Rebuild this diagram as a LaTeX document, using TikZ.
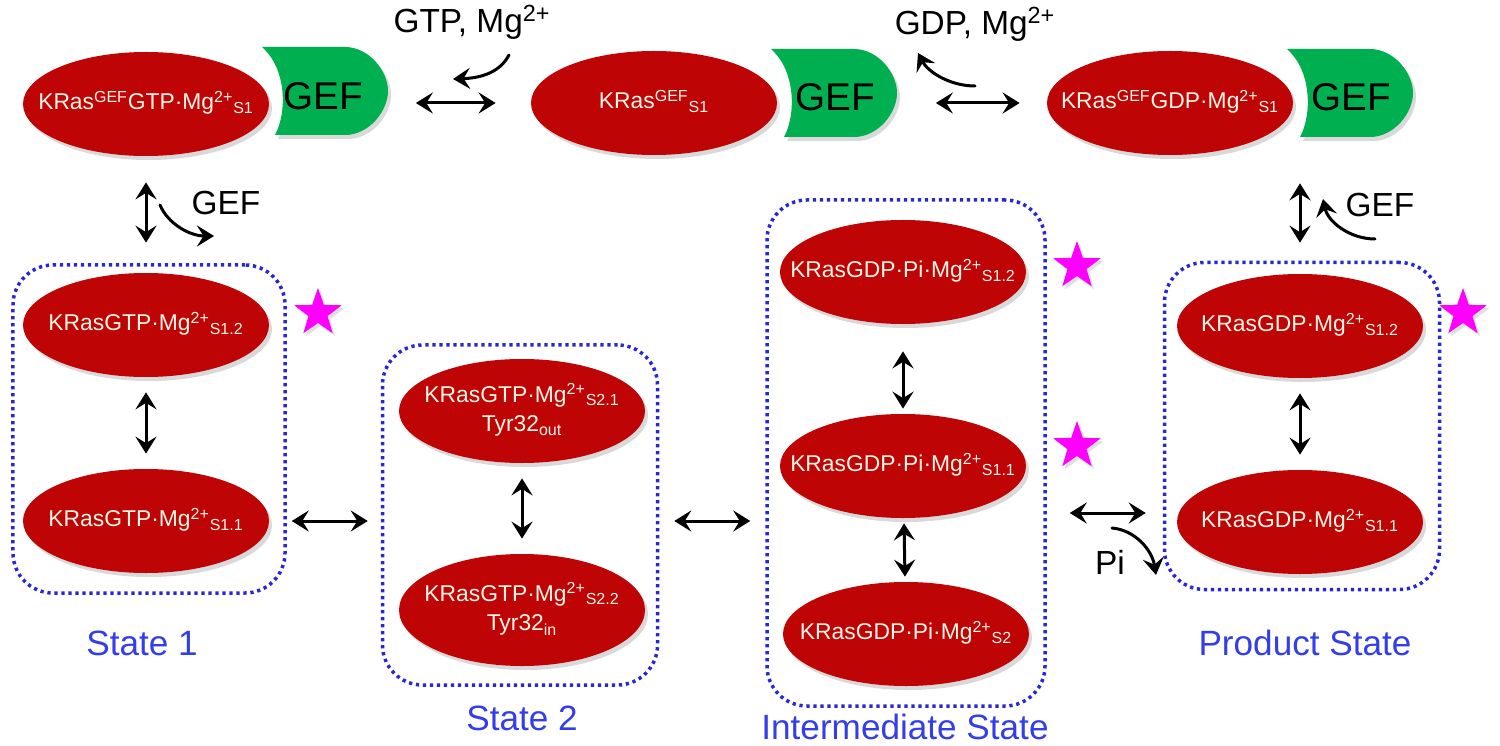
\documentclass[tikz,border=0pt]{standalone}
\usepackage{fontspec}
\setmainfont{Liberation Sans}
\usetikzlibrary{shapes.geometric, arrows.meta, positioning, calc, shadows}

\definecolor{kred}{RGB}{190,4,4}
\definecolor{kcream}{RGB}{255,246,232}
\definecolor{gefgreen}{RGB}{0,176,80}
\definecolor{boxblue}{RGB}{40,40,210}
\definecolor{labelblue}{RGB}{52,62,232}
\definecolor{starpink}{RGB}{255,0,255}

\newcommand{\inell}[1]{\makebox[0pt]{\begin{tabular}{@{}c@{}}#1\end{tabular}}}

\begin{document}
\begin{tikzpicture}[x=0.2mm, y=-0.2mm, line join=round, line cap=round,
    kras/.style={ellipse, fill=kred, text=kcream, inner sep=0pt,
      minimum width=49.2mm, minimum height=20.8mm,
      font=\fontsize{13}{17}\selectfont,
      drop shadow={opacity=0.3, shadow xshift=0.6mm, shadow yshift=-0.8mm}},
    gef/.style={minimum width=25.4mm, minimum height=17.6mm, inner sep=0pt,
      font=\fontsize{22}{24}\selectfont},
    statebox/.style={draw=boxblue, rounded corners=8mm, line width=0.7mm,
      line cap=butt, dash pattern=on 0.65mm off 0.75mm},
    statelabel/.style={text=labelblue, font=\fontsize{20}{22}\selectfont},
    tag/.style={font=\fontsize{19}{21}\selectfont},
    hit/.style={star, star points=5, star point ratio=2.5, fill=starpink,
      minimum size=10mm, inner sep=0pt,
      drop shadow={opacity=0.25, shadow xshift=0.5mm, shadow yshift=-0.6mm}},
    dbl/.style={<->, >={Stealth[length=3.4mm,width=4.2mm,inset=1.3mm]},
      line width=0.6mm, shorten <=3mm, shorten >=3mm},
    curved/.style={->, >={Stealth[length=3.4mm,width=4.2mm,inset=1.3mm]},
      line width=0.6mm},
    gefpad/.pic={
      \fill[gefgreen, drop shadow={opacity=0.3, shadow xshift=0.6mm, shadow yshift=-0.8mm}]
        (-63,-44) -- (20,-44) .. controls (44,-44) and (63,-20) .. (63,0)
        .. controls (63,20) and (44,44) .. (20,44) -- (-50,44)
        .. controls (-38,22) and (-38,-22) .. (-63,-44) -- cycle;
    }]
  \useasboundingbox (0,0) rectangle (1500,746);

  % top row
  \node[kras] (k1) at (146,104) {\inell{KRas\textsuperscript{GEF}GTP·Mg\textsuperscript{2+}\textsubscript{S1}}};
  \pic at (325,91) {gefpad};
  \node[gef] (gef1) at (323,96) {GEF};
  \node[kras] (k2) at (654,103) {\inell{KRas\textsuperscript{GEF}\textsubscript{S1}}};
  \pic at (834,93) {gefpad};
  \node[gef] (gef2) at (835,97) {GEF};
  \node[kras] (k3) at (1170,103) {\inell{KRas\textsuperscript{GEF}GDP·Mg\textsuperscript{2+}\textsubscript{S1}}};
  \pic at (1350,93) {gefpad};
  \node[gef] (gef3) at (1351,97) {GEF};

  \draw[dbl, shorten <=5.8mm, shorten >=7mm] (gef1.east |- k2) -- (k2);
  \draw[dbl, shorten <=7.4mm, shorten >=5.4mm] (gef2.east |- k3) -- (k3);

  \node[tag] (gtp) at (472,22) {GTP, Mg\textsuperscript{2+}};
  \coordinate (gtpa) at (509,55);
  \coordinate (gtpb) at (453,79);
  \draw[curved] (gtpa) .. controls (500,72) and (482,78) .. (gtpb);
  \node[tag] (gdp) at (975,24) {GDP, Mg\textsuperscript{2+}};
  \coordinate (gdpa) at (975,86);
  \coordinate (gdpb) at (918,53);
  \draw[curved] (gdpa) .. controls (950,86) and (928,72) .. (gdpb);

  % state 1
  \node[statebox, minimum width=54.4mm, minimum height=65.6mm] (state1) at (149,429) {};
  \node[kras] (s1b) at (146,325) {\inell{KRasGTP·Mg\textsuperscript{2+}\textsubscript{S1.2}}};
  \node[kras] (s1a) at (146,521) {\inell{KRasGTP·Mg\textsuperscript{2+}\textsubscript{S1.1}}};
  \draw[dbl] (s1b) -- (s1a);
  \node[hit] (star1) at (318,313) {};
  \node[statelabel] (lab1) at (142,643) {State 1};

  \draw[dbl, shorten <=5.2mm, shorten >=6mm] (k1) -- (s1b);
  \node[tag] (gefl) at (226,203) {GEF};
  \coordinate (gefla) at (160,205);
  \coordinate (geflb) at (214,236);
  \draw[curved] (gefla) .. controls (168,224) and (190,236) .. (geflb);

  % state 2
  \node[statebox, minimum width=55mm, minimum height=68mm] (state2) at (520,515) {};
  \node[kras] (s21) at (522,411) {\inell{KRasGTP·Mg\textsuperscript{2+}\textsubscript{S2.1}\\Tyr32\textsubscript{out}}};
  \node[kras, minimum height=22.4mm] (s22) at (522,610) {\inell{KRasGTP·Mg\textsuperscript{2+}\textsubscript{S2.2}\\Tyr32\textsubscript{in}}};
  \draw[dbl] (s21) -- (s22);
  \node[statelabel] (lab2) at (522,718) {State 2};

  \draw[dbl, shorten <=1mm, shorten >=2.6mm] (state1.east |- s1a) -- (state2.west |- s1a);

  % intermediate state
  \node[statebox, minimum width=55.6mm, minimum height=101.2mm] (inter) at (906,453) {};
  \node[kras] (i12) at (903,272) {\inell{KRasGDP·Pi·Mg\textsuperscript{2+}\textsubscript{S1.2}}};
  \node[kras] (i11) at (903,466) {\inell{KRasGDP·Pi·Mg\textsuperscript{2+}\textsubscript{S1.1}}};
  \node[kras] (i2) at (906,634) {\inell{KRasGDP·Pi·Mg\textsuperscript{2+}\textsubscript{S2}}};
  \draw[dbl, shorten <=5.4mm, shorten >=1mm] (i12) -- (i11);
  \draw[dbl, shorten <=1mm, shorten >=1mm] (i11) -- (i2);
  \node[hit] (star2) at (1077,266) {};
  \node[hit] (star3) at (1077,446) {};
  \node[statelabel] (lab3) at (905,727) {Intermediate State};

  \draw[dbl] (state2.east |- s1a) -- (inter.west |- s1a);

  % product state
  \node[statebox, minimum width=55mm, minimum height=65.4mm] (prod) at (1302,426) {};
  \node[kras] (p12) at (1300,326) {\inell{KRasGDP·Mg\textsuperscript{2+}\textsubscript{S1.2}}};
  \node[kras] (p11) at (1300,522) {\inell{KRasGDP·Mg\textsuperscript{2+}\textsubscript{S1.1}}};
  \draw[dbl] (p12) -- (p11);
  \node[hit] (star4) at (1463,313) {};
  \node[statelabel] (lab4) at (1305,643) {Product State};

  \draw[dbl, shorten <=8.4mm, shorten >=6.2mm] (p12 |- gef3.south) -- (p12);
  \node[tag] (gefr) at (1380,205) {GEF};
  \coordinate (gefra) at (1375,239);
  \coordinate (gefrb) at (1323,199);
  \draw[curved] (gefra) .. controls (1350,239) and (1328,222) .. (gefrb);

  \draw[dbl, shorten <=4.6mm, shorten >=3.4mm] ($(inter.east |- p11)+(0,-9)$) -- ($(prod.west |- p11)+(0,-9)$);
  \node[tag] (pi) at (1110,562) {Pi};
  \coordinate (pia) at (1112,528);
  \coordinate (pib) at (1156,575);
  \draw[curved] (pia) .. controls (1135,530) and (1152,550) .. (pib);
\end{tikzpicture}
\end{document}
